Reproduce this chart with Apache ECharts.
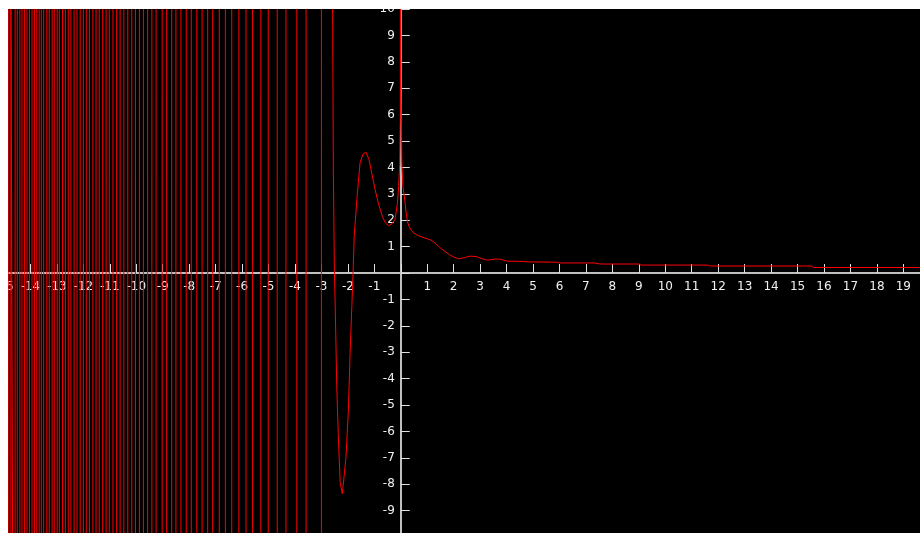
<!DOCTYPE html>
<html>
<head>
<meta charset="utf-8">
<script src="https://cdn.jsdelivr.net/npm/echarts@6/dist/echarts.min.js"></script>
<style>
  html, body { margin: 0; padding: 0; background: #fff; }
  #chart { width: 920px; height: 533px; }
</style>
</head>
<body>
<div id="chart"></div>
<script>
// x positions where the curve sweeps through the whole window (left part, left to right)
var crossX = [
  -14.84, -14.74, -14.67, -14.58, -14.50, -14.40, -14.32, -14.22, -14.13, -14.04,
  -13.94, -13.85, -13.76, -13.67, -13.59, -13.50, -13.38, -13.29, -13.18, -13.10,
  -12.99, -12.91, -12.79, -12.68, -12.57, -12.47, -12.35, -12.24, -12.12, -12.00,
  -11.89, -11.77, -11.64, -11.52, -11.40, -11.27, -11.14, -11.02, -10.88, -10.74,
  -10.61, -10.47, -10.32, -10.17, -10.03, -9.88, -9.73, -9.57, -9.41, -9.25,
  -9.02, -8.85, -8.66, -8.50, -8.31, -8.11, -7.92, -7.71, -7.51, -7.30,
  -7.11, -6.86, -6.63, -6.39, -6.12, -5.85, -5.60, -5.29, -5.01, -4.67,
  -4.34, -3.93, -3.58, -3.00
]

// visible part of the curve
var curveX = [
  -2.58, -2.55, -2.51, -2.48, -2.42, -2.36, -2.29, -2.21, -2.13, -2.07,
  -1.98, -1.92, -1.85, -1.80, -1.76, -1.66, -1.54, -1.43, -1.32, -1.20,
  -1.10, -0.98, -0.85, -0.70, -0.58, -0.47, -0.35, -0.22, -0.13, -0.08,
  -0.04, -0.015, -0.005,
  0.01, 0.04, 0.08, 0.12, 0.16, 0.20, 0.25, 0.32, 0.42, 0.55,
  0.73, 0.90, 1.11, 1.25, 1.36, 1.50, 1.61, 1.80, 1.99, 2.18,
  2.40, 2.62, 2.87, 3.05, 3.25, 3.40, 3.57, 3.78, 4.00, 4.50,
  4.90, 5.90, 6.00, 7.30, 7.55, 9.00, 9.10, 11.60, 11.70, 15.50,
  15.60, 19.70
]
var curveY = [
  11, 4.0, 0.1, -1.14, -4.3, -6.19, -7.95, -8.36, -7.58, -6.95,
  -5.18, -3.16, -1.26, 0.1, 1.39, 2.78, 4.17, 4.5, 4.58, 4.3,
  3.79, 3.2, 2.65, 2.15, 1.9, 1.79, 1.85, 2.02, 2.6, 3.28,
  4.1, 6.0, 11,
  7.1, 4.2, 3.3, 3.0, 2.7, 2.3, 1.95, 1.75, 1.58, 1.47,
  1.39, 1.33, 1.26, 1.17, 1.07, 0.95, 0.86, 0.72, 0.61, 0.54,
  0.58, 0.64, 0.62, 0.55, 0.49, 0.5, 0.53, 0.52, 0.45, 0.44,
  0.42, 0.41, 0.38, 0.38, 0.34, 0.34, 0.30, 0.30, 0.265, 0.265,
  0.21, 0.21
]

var xMin = -15, xMax = 19.63
var yMin = -10, yMax = 10

var OFF = 12 // beyond the window, the sweep gets clipped

var lineData = []
for (var i = 0; i < crossX.length; i++) {
  // the last sweep before the dip goes upward, they alternate going left
  var up = (crossX.length - 1 - i) % 2 === 0
  lineData.push([crossX[i], up ? -OFF : OFF])
  lineData.push([crossX[i], up ? OFF : -OFF])
}
for (var j = 0; j < curveX.length; j++) {
  lineData.push([curveX[j], curveY[j]])
}

var gridLeft = 4, gridTop = 9, gridW = 916, gridH = 528
// the axes cross at the origin, move them there with offset
var zeroX = gridW * (0 - xMin) / (xMax - xMin)
var zeroY = gridH * (yMax - 0) / (yMax - yMin)

var labelFmt = function (v) {
  return v === 0 ? '' : String(v)
}

var axisCommon = {
  type: 'value',
  interval: 1,
  splitLine: { show: false },
  axisLine: {
    onZero: false,
    lineStyle: { color: '#c0c0c0', width: 2 }
  },
  axisTick: {
    inside: true,
    length: 9,
    lineStyle: { color: '#e0e0e0', width: 1 }
  },
  axisLabel: {
    color: '#f0f0f0',
    fontFamily: 'DejaVu Sans',
    fontSize: 12,
    formatter: labelFmt
  }
}

var chart = echarts.init(document.getElementById('chart'))
chart.setOption({
  backgroundColor: '#000',
  animation: false,
  grid: {
    left: gridLeft,
    top: gridTop,
    width: gridW,
    height: gridH,
    containLabel: false,
    outerBoundsMode: 'none'
  },
  xAxis: echarts.util.merge({
    min: xMin,
    max: xMax,
    position: 'bottom',
    offset: -(gridH - zeroY),
    axisLabel: { margin: 8, showMinLabel: true, showMaxLabel: false }
  }, axisCommon),
  yAxis: echarts.util.merge({
    min: yMin,
    max: yMax,
    position: 'left',
    offset: -zeroX,
    axisLabel: { margin: 6, showMinLabel: false, showMaxLabel: true }
  }, axisCommon),
  series: [{
    type: 'line',
    data: lineData,
    showSymbol: false,
    clip: true,
    lineStyle: { color: '#ff0000', width: 1 }
  }],
  // white frame on the left and top edge
  graphic: [
    { type: 'rect', z: 100, shape: { x: 0, y: 0, width: 8, height: 533 }, style: { fill: '#fff' } },
    { type: 'rect', z: 100, shape: { x: 0, y: 0, width: 920, height: 9 }, style: { fill: '#fff' } }
  ]
})
</script>
</body>
</html>
